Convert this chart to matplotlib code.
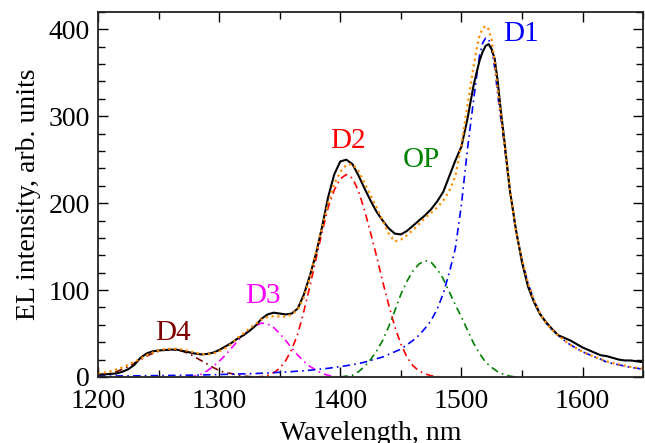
import matplotlib
matplotlib.use('Agg')
import matplotlib.pyplot as plt
from matplotlib.ticker import MultipleLocator

# ---------------- data ----------------
wavelength = [1200, 1205, 1210, 1215, 1220, 1225, 1230, 1235, 1240, 1245,
              1250, 1255, 1260, 1265, 1270, 1275, 1280, 1285, 1290, 1295,
              1300, 1305, 1310, 1315, 1320, 1325, 1330, 1335, 1340, 1345,
              1350, 1355, 1360, 1365, 1370, 1375, 1380, 1385, 1390, 1395,
              1400, 1405, 1410, 1415, 1420, 1425, 1430, 1435, 1440, 1445,
              1450, 1455, 1460, 1465, 1470, 1475, 1480, 1485, 1490, 1495,
              1500, 1505, 1510, 1512.5, 1515, 1517.5, 1520, 1522.5, 1525, 1527.5,
              1530, 1532.5, 1535, 1540, 1545,
              1550, 1555, 1560, 1565, 1570, 1575, 1580, 1585, 1590, 1595,
              1600, 1605, 1610, 1615, 1620, 1625, 1630, 1635, 1640, 1645,
              1650]

measured = [3, 3, 3.5, 4, 6, 9, 14, 22, 27, 29.5,
            30.5, 31, 31.5, 31.5, 30, 28.5, 27, 26, 26.5, 28,
            31, 35, 39, 44, 48, 53, 59, 67, 72, 74,
            73, 72, 73, 79, 95, 117, 142, 173, 207, 233,
            248, 250, 245, 232, 217, 203, 190, 180, 171, 165,
            164, 168, 174, 180, 186, 193, 202, 213, 231, 249,
            265, 297, 335, 350, 364, 374, 381, 383, 377, 366,
            340, 307, 278, 215, 170,
            132, 104, 86, 72, 63, 55, 48, 45, 42, 38,
            34, 31, 28, 25, 24, 22, 20, 19, 19, 18,
            17]

fit_sum = [4, 5, 6.5, 8.5, 11, 14, 17.5, 21, 25, 28,
           30.5, 32, 32.5, 32.5, 31.5, 30, 28, 26.5, 26, 27,
           29.5, 33, 38, 45, 50, 56, 61, 66, 69, 70,
           69.5, 69.5, 72, 78, 92, 115, 144, 172, 200, 222,
           236, 244, 245, 237, 223, 209, 195, 180, 165, 156,
           158, 163, 169, 176, 183, 189, 195, 203, 214, 231,
           267, 312, 357, 377, 393, 401, 404, 400, 388, 362,
           330, 303, 275, 217, 168,
           136, 108, 88, 73, 62, 54, 48, 42, 37, 33,
           29, 26, 23, 20.5, 18, 16, 14.5, 13, 11.5, 10.5,
           9.5]

d1 = [1, 1, 1, 1.2, 1.2, 1.3, 1.3, 1.4, 1.5, 1.5,
      1.6, 1.7, 1.8, 1.9, 2, 2.1, 2.2, 2.3, 2.5, 2.6,
      2.8, 3, 3.2, 3.4, 3.6, 3.8, 4, 4.3, 4.6, 5,
      5.4, 5.8, 6.2, 6.7, 7.2, 7.8, 8.5, 9.3, 10, 11,
      12, 13, 14, 15.5, 17, 19, 21, 23, 26, 29,
      32, 37, 42, 48, 56, 65, 78, 96, 120, 148,
      198, 262, 318, 345, 370, 384, 390, 389, 377, 356,
      325, 298, 272, 216, 168,
      135, 108, 88, 73, 62, 54, 48, 42, 37, 33,
      29, 26, 23, 20.5, 17, 15.5, 14, 12.5, 11, 10,
      9]

wl_d4 = [1200, 1205, 1210, 1215, 1220, 1225, 1230, 1235, 1240, 1245,
         1250, 1255, 1260, 1265, 1270, 1275, 1280, 1285, 1290, 1295,
         1300, 1305, 1310, 1315, 1320, 1325, 1330]
d4 = [2, 3, 4, 6, 9, 12, 16, 20, 24, 27,
      29.5, 31, 31.5, 31, 29.5, 27, 23, 19, 15, 11,
      7.5, 5, 4, 2, 1, 0.5, 0]

wl_d3 = [1275, 1280, 1285, 1290, 1295, 1300, 1305, 1310, 1315, 1320,
         1325, 1330, 1335, 1340, 1345, 1350, 1355, 1360, 1365, 1370,
         1375, 1380, 1385, 1390, 1395, 1400]
d3 = [0, 1, 3, 7, 12, 18, 25, 33, 41, 48,
      54, 59, 62, 61, 57, 50, 42, 33, 25, 18,
      12, 8, 4, 2, 0.5, 0]

wl_d2 = [1330, 1335, 1340, 1345, 1350, 1355, 1360, 1365, 1370, 1375,
         1380, 1385, 1390, 1395, 1400, 1405, 1410, 1415, 1420, 1425,
         1430, 1435, 1440, 1445, 1450, 1455, 1460, 1465, 1470, 1475,
         1480, 1485]
d2 = [0, 0.5, 2, 5, 10, 19, 32, 50, 76, 105,
      136, 167, 195, 215, 228, 233, 229, 214, 192, 166,
      139, 110, 83, 58, 38, 23, 13, 7, 3.5, 1.5,
      0.5, 0]

wl_op = [1400, 1405, 1410, 1415, 1420, 1425, 1430, 1435, 1440, 1445,
         1450, 1455, 1460, 1465, 1470, 1475, 1480, 1485, 1490, 1495,
         1500, 1505, 1510, 1515, 1520, 1525, 1530, 1535, 1540, 1545]
op = [0, 1, 2, 6, 12, 20, 30, 42, 58, 76,
      95, 110, 122, 130, 134, 132, 124, 113, 98, 83,
      69, 54, 39, 27, 17, 11, 6, 3, 1, 0]

labels = ['D1', 'D2', 'OP', 'D3', 'D4']
label_x = [1549, 1406, 1467, 1336, 1262]
label_y = [395, 272, 250, 93, 51]
label_colors = ['#0000FF', '#FF0000', '#008000', '#FF00FF', '#800000']

# ---------------- figure ----------------
plt.rcParams['font.family'] = ['Liberation Serif', 'DejaVu Serif']

fig = plt.figure(figsize=(6.45, 4.43), dpi=100)
ax = fig.add_axes([0.152, 0.149, 0.845, 0.824])

dd = (0, (4.5, 2.5, 1, 2.5))
lw_c = 1.2
ax.plot(wl_d4, d4, color='#800000', lw=lw_c, linestyle=dd)
ax.plot(wl_d3, d3, color='#FF00FF', lw=lw_c, linestyle=dd)
ax.plot(wl_d2, d2, color='#FF0000', lw=lw_c, linestyle=dd)
ax.plot(wl_op, op, color='#008000', lw=lw_c, linestyle=dd)
ax.plot(wavelength, d1, color='#0000FF', lw=lw_c, linestyle=dd)
ax.plot(wavelength, measured, color='black', lw=1.5, linestyle='-')
ax.plot(wavelength, fit_sum, color='#FF8C00', lw=1.6, linestyle=(0, (1, 1.6)))

for t, x, y, c in zip(labels, label_x, label_y, label_colors):
    ax.text(x, y, t, color=c, fontsize=21, ha='center', va='center')

ax.set_xlim(1200, 1650)
ax.set_ylim(0, 420)
ax.xaxis.set_major_locator(MultipleLocator(100))
ax.xaxis.set_minor_locator(MultipleLocator(50))
ax.yaxis.set_major_locator(MultipleLocator(100))
ax.yaxis.set_minor_locator(MultipleLocator(20))
ax.tick_params(which='both', direction='in', top=True, right=True,
               labelsize=20, width=1.0, colors='black')
ax.tick_params(axis='x', which='major', length=7, pad=9)
ax.tick_params(axis='y', which='major', length=7, pad=6)
ax.tick_params(which='minor', length=5)
for s in ax.spines.values():
    s.set_linewidth(1.3)
    s.set_color('#222222')

ax.set_xlabel('Wavelength, nm', fontsize=20, labelpad=5)
ax.set_ylabel('EL intensity, arb. units', fontsize=20, labelpad=5)

fig.savefig('out.png', dpi=100)
